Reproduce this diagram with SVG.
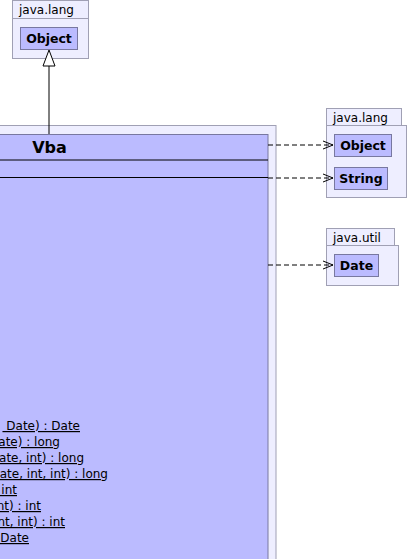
<svg xmlns="http://www.w3.org/2000/svg" width="407" height="559" viewBox="0 0 407 559">
<style>
.pkg{fill:#eeeeff;stroke:#a0a0b4;stroke-width:1}
.cls{fill:#bbbbff;stroke:#7878a0;stroke-width:1}
.plbl{font-family:"DejaVu Sans",sans-serif;font-size:12px;fill:#000}
.clbl{font-family:"DejaVu Sans",sans-serif;font-size:12.5px;font-weight:bold;fill:#000;text-anchor:middle}
.title{font-family:"DejaVu Sans",sans-serif;font-size:16px;font-weight:bold;fill:#000;text-anchor:middle}
.mth{font-family:"DejaVu Sans",sans-serif;font-size:12px;fill:#000;text-anchor:end;text-decoration:underline;white-space:pre}
.dep{fill:none;stroke:#000;stroke-width:1;stroke-dasharray:5,3}
.sep{stroke:#000;stroke-width:1}
</style>
<defs>
<marker id="open" markerWidth="12" markerHeight="10" refX="11" refY="5" orient="auto" markerUnits="userSpaceOnUse">
<path d="M1,1 L11,5 L1,9" fill="none" stroke="#000" stroke-width="1"/>
</marker>
</defs>
<g id="pkg-vba">
<rect class="pkg" x="-200" y="125.5" width="476" height="500"/>
</g>
<g id="Vba">
<rect class="cls" x="-190" y="134.5" width="458" height="480"/>
<text class="title" x="49.5" y="152.5">Vba</text>
<line class="sep" x1="-190" y1="160" x2="268" y2="160"/>
<line class="sep" x1="-190" y1="177.5" x2="268" y2="177.5"/>
<text class="mth" x="80" y="430" xml:space="preserve"> Date) : Date</text>
<text class="mth" x="60" y="446">ate) : long</text>
<text class="mth" x="84" y="462">ate, int) : long</text>
<text class="mth" x="108" y="478">ate, int, int) : long</text>
<text class="mth" x="17" y="494" xml:space="preserve"> int</text>
<text class="mth" x="41" y="510">nt) : int</text>
<text class="mth" x="65" y="526">nt, int) : int</text>
<text class="mth" x="29" y="542" xml:space="preserve"> Date</text>
</g>
<g id="pkg-java-lang-top">
<rect class="pkg" x="12.5" y="0.5" width="76" height="18"/>
<rect class="pkg" x="12.5" y="18.5" width="76" height="40"/>
<text class="plbl" x="19" y="14">java.lang</text>
</g>
<g id="Object-top">
<rect class="cls" x="20.5" y="27.5" width="57" height="22"/>
<text class="clbl" x="49" y="43">Object</text>
</g>
<g id="pkg-java-lang-right">
<rect class="pkg" x="326.5" y="108.5" width="75" height="17"/>
<rect class="pkg" x="326.5" y="125.5" width="80" height="72"/>
<text class="plbl" x="333" y="122">java.lang</text>
</g>
<g id="Object-right">
<rect class="cls" x="334.5" y="134.5" width="57" height="22"/>
<text class="clbl" x="363" y="150">Object</text>
</g>
<g id="String">
<rect class="cls" x="334.5" y="167.5" width="53" height="22"/>
<text class="clbl" x="361" y="183">String</text>
</g>
<g id="pkg-java-util">
<rect class="pkg" x="326.5" y="228.5" width="68" height="17"/>
<rect class="pkg" x="326.5" y="245.5" width="72" height="40"/>
<text class="plbl" x="333" y="242">java.util</text>
</g>
<g id="Date">
<rect class="cls" x="334.5" y="254.5" width="44" height="22"/>
<text class="clbl" x="356.5" y="270">Date</text>
</g>
<g id="connectors">
<line x1="49" y1="134" x2="49" y2="66" stroke="#000" stroke-width="1"/>
<path d="M49,50 L55,66 L43,66 Z" fill="#fff" stroke="#000" stroke-width="1"/>
<line class="dep" x1="268" y1="145" x2="333" y2="145" marker-end="url(#open)"/>
<line class="dep" x1="268" y1="178" x2="333" y2="178" marker-end="url(#open)"/>
<line class="dep" x1="268" y1="265" x2="333" y2="265" marker-end="url(#open)"/>
</g>
</svg>
